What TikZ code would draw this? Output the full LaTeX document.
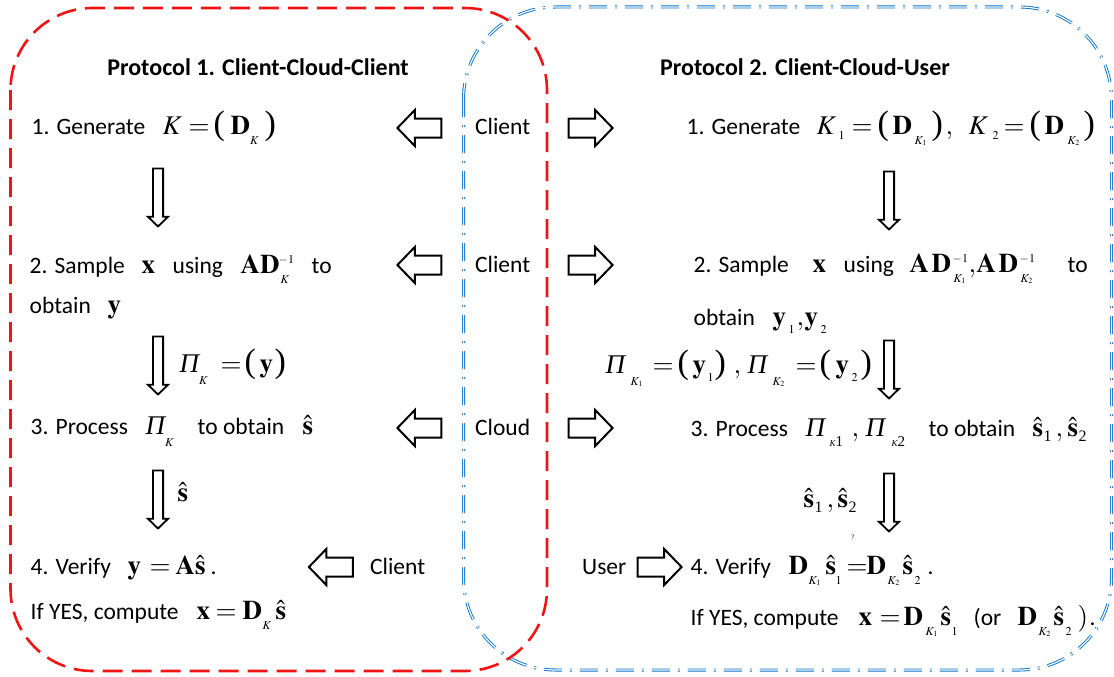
\documentclass[tikz,border=0pt]{standalone}
\usepackage{amsmath}
\usepackage{mathptmx}
\usepackage[no-math]{fontspec}
\setmainfont{Carlito}
\newfontfamily\tmfont{Liberation Serif}
\usetikzlibrary{shapes.arrows}
\DeclareMathSizes{23.5}{27}{12}{8}
\definecolor{boxred}{RGB}{240,20,20}
\definecolor{boxblue}{RGB}{10,115,200}
\newcommand\putat[2]{\makebox[0pt][l]{\hspace*{#1pt}#2}}
\newcommand\mD{\mathbf{D}}
\newcommand\mA{\mathbf{A}}
\newcommand\mx{\mathbf{x}}
\newcommand\my{\mathbf{y}}
\newcommand\ms{\hat{\mathbf{s}}}
\newcommand\PiI{\mbox{\tmfont\itshape\fontsize{27}{27}\selectfont Π}}
\newcommand\LP{\mbox{\tmfont\fontsize{34}{34}\selectfont(}}
\newcommand\RP{\mbox{\tmfont\fontsize{34}{34}\selectfont)}}
\newcommand\lsub[2]{\raisebox{-#1pt}{$\scriptstyle #2$}}
\newcommand\nsub[2]{\raisebox{-#1pt}{\tmfont\fontsize{16}{16}\selectfont #2}}
\newcommand\kap[2]{\raisebox{-#1pt}{\tmfont\itshape\fontsize{9}{9}\selectfont K\upshape\fontsize{15}{15}\selectfont #2}}
\begin{document}
\begin{tikzpicture}[x=1pt,y=-1pt,
 txt/.style={anchor=base west, inner sep=0pt, font=\fontsize{23.5}{28}\selectfont},
 ttl/.style={anchor=base, inner sep=0pt, font=\fontsize{24}{28}\selectfont\bfseries},
 harrow/.style={single arrow, draw=black, fill=white, line width=2pt, inner xsep=0pt, inner ysep=8.5pt, minimum height=44pt, single arrow head extend=8.5pt, single arrow tip angle=92},
 darrow/.style={single arrow, draw=black, fill=white, line width=1.8pt, inner xsep=0pt, inner ysep=4.2pt, minimum height=58pt, single arrow head extend=5pt, single arrow tip angle=92, rotate=-90},
 redbox/.style={draw=boxred, line width=2.6pt, dash pattern=on 20pt off 9pt, rounded corners=82pt},
 bluebox/.style={draw=boxblue, double=white, double distance=1.2pt, line width=0.9pt, dash pattern=on 18pt off 8pt on 2pt off 8pt, rounded corners=92pt}]
\useasboundingbox[fill=white] (0,0) rectangle (1114,677);
\draw[bluebox] (463.5,7) rectangle (1111.5,670);
\draw[redbox] (10.5,8) rectangle (547,671);
% titles
\node[ttl] (t1) at (258,75.5) {Protocol 1. Client-Cloud-Client};
\node[ttl] (t2) at (805,75.5) {Protocol 2. Client-Cloud-User};
% left column
\node[txt] (l1) at (0,134) {\putat{31}{1. Generate}\putat{162}{$K$}\putat{188}{$=$}\putat{213}{\LP}\putat{230}{$\mD$\lsub{10}{K}}\putat{264}{\RP}};
\node[txt] (l2) at (0,273) {\putat{29}{2. Sample}\putat{141}{$\mx$}\putat{172}{using}\putat{240}{$\mA\mD$}\putat{278}{\raisebox{10pt}{$\scriptstyle -1$}}\putat{280}{\lsub{10}{K}}\putat{311}{to}};
\node[txt] (l2b) at (0,313) {\putat{29}{obtain}\putat{107}{$\my$}};
\node[txt] (lp) at (0,372) {\putat{179}{\PiI\lsub{12}{K}}\putat{220}{$=$}\putat{244}{\LP}\putat{259}{$\my$}\putat{274}{\RP}};
\node[txt] (l3) at (0,434) {\putat{30}{3. Process}\putat{145}{\PiI\lsub{12}{K}}\putat{197}{to obtain}\putat{302}{$\ms$}};
\node[txt] (ls) at (0,501) {\putat{177}{$\ms$}};
\node[txt] (l4) at (0,574) {\putat{30}{4. Verify}\putat{127}{$\my$}\putat{149}{$=$}\putat{175}{$\mA\ms$}\putat{210}{.}};
\node[txt] (l5) at (0,619) {\putat{30}{If YES, compute}\putat{196}{$\mx$}\putat{215}{$=$}\putat{242}{$\mD$}\putat{262}{\lsub{10}{K}}\putat{275}{$\ms$}};
% middle labels
\node[txt] (c1) at (475,134) {Client};
\node[txt] (c2) at (475,272) {Client};
\node[txt] (c3) at (475,435) {Cloud};
\node[txt] (c4) at (370,574) {Client};
\node[txt] (u1) at (582,574) {User};
% right column
\node[txt] (r1) at (0,134) {\putat{686}{1. Generate}\putat{816}{$K$}\putat{838}{\lsub{5}{1}}\putat{851}{$=$}\putat{877}{\LP}\putat{892}{$\mD$}\putat{914}{\lsub{10}{K_1}}\putat{931}{\RP}\putat{945}{$,$}\putat{968}{$K$}\putat{992}{\lsub{5}{2}}\putat{1003}{$=$}\putat{1029}{\LP}\putat{1044}{$\mD$}\putat{1067}{\lsub{10}{K_2}}\putat{1083}{\RP}};
\node[txt] (r2) at (0,272) {\putat{693}{2. Sample}\putat{812}{$\mx$}\putat{843}{using}\putat{909}{$\mA$}\putat{931}{$\mD$}\putat{952}{\raisebox{10pt}{$\scriptstyle -1$}}\putat{953}{\lsub{10}{K_1}}\putat{968}{$,$}\putat{976}{$\mA$}\putat{998}{$\mD$}\putat{1019}{\raisebox{10pt}{$\scriptstyle -1$}}\putat{1020}{\lsub{10}{K_2}}\putat{1067}{to}};
\node[txt] (r2b) at (0,325) {\putat{693}{obtain}\putat{772}{$\my$}\putat{788}{\lsub{8}{1}}\putat{796}{$,$}\putat{804}{$\my$}\putat{820}{\lsub{8}{2}}};
\node[txt] (rp) at (0,373) {\putat{605}{\PiI}\putat{630}{\lsub{12}{K_1}}\putat{652}{$=$}\putat{677}{\LP}\putat{692}{$\my$}\putat{707}{\lsub{8}{1}}\putat{714}{\RP}\putat{733}{$,$}\putat{747}{\PiI}\putat{772}{\lsub{12}{K_2}}\putat{795}{$=$}\putat{819}{\LP}\putat{835}{$\my$}\putat{851}{\lsub{8}{2}}\putat{860}{\RP}};
\node[txt] (r3) at (0,436) {\putat{690}{3. Process}\putat{805}{\PiI}\putat{829}{\kap{10}{1}}\putat{851}{$,$}\putat{865}{\PiI}\putat{891}{\kap{10}{2}}\putat{928}{to obtain}\putat{1032}{$\ms$}\putat{1043}{\nsub{5}{1}}\putat{1055}{$,$}\putat{1067}{$\ms$}\putat{1078}{\nsub{5}{2}}};
\node[txt] (rs) at (0,507) {\putat{803}{$\ms$}\putat{814}{\nsub{5}{1}}\putat{826}{$,$}\putat{837}{$\ms$}\putat{848}{\nsub{5}{2}}};
\node[inner sep=0pt, font=\tmfont\fontsize{7}{8}\selectfont] (q) at (853,537) {?};
\node[txt] (r4) at (0,574) {\putat{690}{4. Verify}\putat{788}{$\mD$}\putat{808}{\lsub{10}{K_1}}\putat{825}{$\ms$}\putat{835}{\lsub{10}{1}}\putat{846}{$=$}\putat{866}{$\mD$}\putat{887}{\lsub{10}{K_2}}\putat{902}{$\ms$}\putat{914}{\lsub{10}{2}}\putat{927}{.}};
\node[txt] (r5) at (0,625) {\putat{690}{If YES, compute}\putat{858}{$\mx$}\putat{879}{$=$}\putat{903}{$\mD$}\putat{925}{\lsub{10}{K_1}}\putat{940}{$\ms$}\putat{951}{\lsub{10}{1}}\putat{973}{(or}\putat{1017}{$\mD$}\putat{1038}{\lsub{10}{K_2}}\putat{1053}{$\ms$}\putat{1065}{\lsub{10}{2}}\putat{1077}{$)$}\putat{1089}{.}};
% horizontal arrows
\node[harrow, rotate=180] (al1) at (424,128) {};
\node[harrow, rotate=180] (al2) at (424,265) {};
\node[harrow, rotate=180] (al3) at (424,428) {};
\node[harrow, rotate=180] (al4) at (335.5,567) {};
\node[harrow] (ar1) at (586,128) {};
\node[harrow] (ar2) at (586,265) {};
\node[harrow] (ar3) at (586,428) {};
\node[harrow] (ar4) at (655,567) {};
% down arrows
\node[darrow] (dl1) at (158,195) {};
\node[darrow] (dl2) at (158,363) {};
\node[darrow] (dl3) at (158,497) {};
\node[darrow] (dr1) at (889,198) {};
\node[darrow] (dr2) at (889,367) {};
\node[darrow] (dr3) at (889,500) {};
\end{tikzpicture}
\end{document}
